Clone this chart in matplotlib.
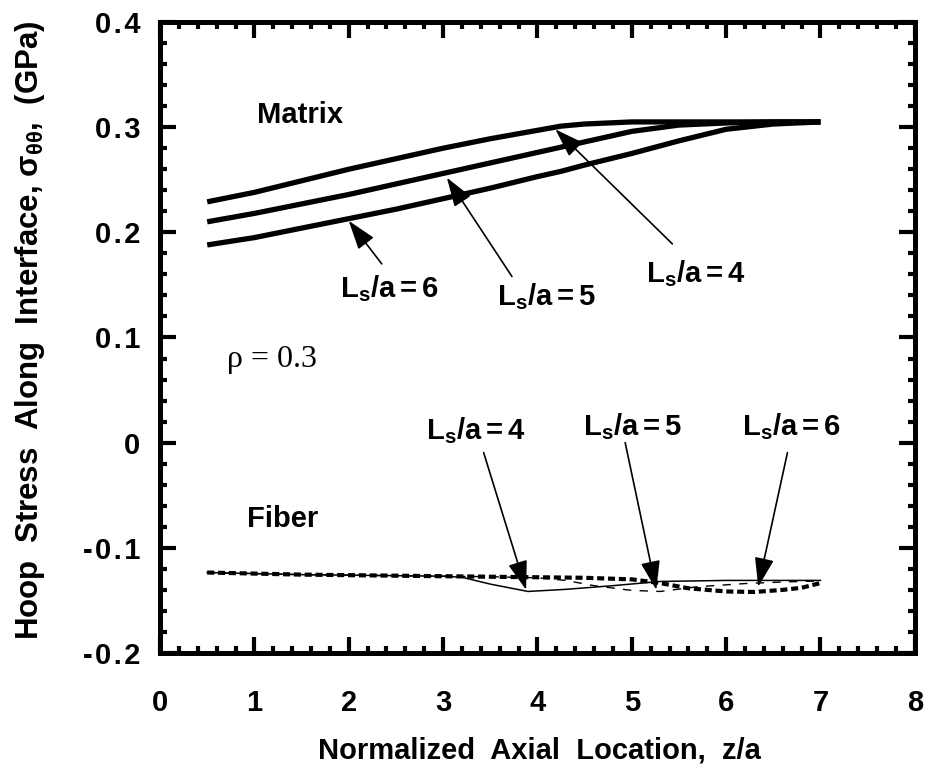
# Hoop stress along the fibre/matrix interface, matrix and fibre sides,
# for three sleeve lengths Ls/a = 4, 5, 6 (rho = 0.3).

import matplotlib
matplotlib.use("Agg")
import matplotlib.pyplot as plt
from matplotlib.ticker import MultipleLocator, FuncFormatter

plt.rcParams["font.family"] = ["Liberation Sans", "DejaVu Sans"]
plt.rcParams["mathtext.fontset"] = "custom"
plt.rcParams["mathtext.rm"] = "Liberation Sans"
plt.rcParams["mathtext.bf"] = "Liberation Sans:bold"
plt.rcParams["mathtext.it"] = "Liberation Sans:italic"

# matrix side (thick solid lines)
x_matrix = [0.5, 1.0, 1.5, 2.0, 2.5, 3.0, 3.5, 4.0, 4.25, 4.5, 5.0, 5.5, 6.0, 6.5, 7.0]
matrix_ls4 = [0.229, 0.238, 0.249, 0.260, 0.270, 0.280, 0.289, 0.297, 0.301, 0.303, 0.305, 0.305, 0.305, 0.305, 0.305]
matrix_ls5 = [0.210, 0.218, 0.227, 0.236, 0.246, 0.256, 0.266, 0.276, 0.281, 0.286, 0.296, 0.302, 0.304, 0.305, 0.305]
matrix_ls6 = [0.188, 0.195, 0.204, 0.213, 0.222, 0.232, 0.242, 0.253, 0.258, 0.264, 0.275, 0.287, 0.298, 0.303, 0.305]

# fibre side
fiber_x_ls4 = [0.5, 1.0, 1.5, 2.0, 2.5, 3.0, 3.2, 3.5, 3.9, 4.3, 4.8, 5.3, 6.0, 7.0]
fiber_ls4 = [-0.1235, -0.1245, -0.1255, -0.126, -0.1265, -0.127, -0.128, -0.1345,
             -0.1415, -0.1395, -0.136, -0.132, -0.131, -0.131]
fiber_x_ls5 = [0.5, 1.0, 1.5, 2.0, 2.5, 3.0, 3.5, 4.0, 4.3, 4.6, 5.0, 5.3, 5.7, 6.2, 6.6, 7.0]
fiber_ls5 = [-0.1235, -0.1245, -0.1255, -0.126, -0.1265, -0.127, -0.1275, -0.1285, -0.131,
             -0.136, -0.1405, -0.1415, -0.137, -0.134, -0.1325, -0.1315]
fiber_x_ls6 = [0.5, 1.0, 1.5, 2.0, 2.5, 3.0, 3.5, 4.0, 4.5, 5.0, 5.3, 5.6, 6.0, 6.3, 6.6, 6.8, 7.0]
fiber_ls6 = [-0.1235, -0.1245, -0.1255, -0.126, -0.1265, -0.127, -0.1275, -0.128, -0.1285,
             -0.130, -0.1335, -0.1385, -0.1415, -0.142, -0.140, -0.138, -0.1335]

# annotation labels: (text, text x, text baseline y, arrow tail, arrow tip)
matrix_notes = [
    (r"$\mathbf{L_s/a=6}$", 2.43, 0.138, (2.35, 0.170), (2.00, 0.211)),
    (r"$\mathbf{L_s/a=5}$", 4.09, 0.131, (3.73, 0.158), (3.04, 0.252)),
    (r"$\mathbf{L_s/a=4}$", 5.68, 0.153, (5.43, 0.189), (4.19, 0.298)),
]
fiber_notes = [
    (r"$\mathbf{L_s/a=4}$", 3.35, 0.003, (3.43, -0.0095), (3.88, -0.140)),
    (r"$\mathbf{L_s/a=5}$", 5.01, 0.0067, (4.93, 0.0), (5.26, -0.140)),
    (r"$\mathbf{L_s/a=6}$", 6.69, 0.0067, (6.65, -0.0095), (6.34, -0.137)),
]

fig = plt.figure(figsize=(9.25, 7.78), dpi=100)
ax = fig.add_axes([0.173, 0.1607, 0.816, 0.811])

for y in (matrix_ls4, matrix_ls5, matrix_ls6):
    ax.plot(x_matrix, y, color="black", lw=3.8, solid_capstyle="butt")

ax.plot(fiber_x_ls4, fiber_ls4, color="black", lw=1.1)
ax.plot(fiber_x_ls5, fiber_ls5, color="black", lw=1.0, linestyle=(0, (6, 6)))
ax.plot(fiber_x_ls6, fiber_ls6, color="black", lw=3.0, linestyle=(0, (1.7, 0.9)),
        dash_capstyle="butt")

arrow = dict(arrowstyle="-|>,head_length=0.9,head_width=0.3", color="black",
             lw=1.2, mutation_scale=20, shrinkA=0, shrinkB=0)
for text, tx, ty, tail, tip in matrix_notes + fiber_notes:
    ax.text(tx, ty, text, ha="center", va="baseline", fontsize=21)
    ax.annotate("", xy=tip, xytext=tail, arrowprops=arrow)

ax.text(1.03, 0.312, "Matrix", ha="left", va="center", fontsize=21, fontweight="bold")
ax.text(0.92, -0.073, "Fiber", ha="left", va="center", fontsize=21, fontweight="bold")
ax.text(0.71, 0.079, "ρ = 0.3", ha="left", va="center", fontsize=23,
        family=["Liberation Serif", "DejaVu Serif"])

ax.set_xlim(0, 8)
ax.set_ylim(-0.2, 0.4)
ax.xaxis.set_major_locator(MultipleLocator(1))
ax.xaxis.set_minor_locator(MultipleLocator(0.2))
ax.yaxis.set_major_locator(MultipleLocator(0.1))
ax.yaxis.set_minor_locator(MultipleLocator(0.02))


def spaced(v, pos):
    s = "0" if abs(v) < 1e-9 else f"{v:.1f}"
    return "\u200a".join(s)


ax.yaxis.set_major_formatter(FuncFormatter(spaced))
ax.xaxis.set_major_formatter(FuncFormatter(lambda v, pos: f"{v:.0f}"))

ax.tick_params(which="both", direction="in", top=True, right=True, width=3)
ax.tick_params(which="major", length=11.5)
ax.tick_params(which="minor", length=5)
ax.tick_params(axis="x", which="major", pad=26, labelsize=21)
ax.tick_params(axis="y", which="major", pad=14, labelsize=21)
for lab in ax.get_xticklabels() + ax.get_yticklabels():
    lab.set_fontweight("bold")
for sp in ax.spines.values():
    sp.set_linewidth(3.6)

ax.set_xlabel("Normalized  Axial  Location,  z/a", fontsize=21, fontweight="bold")
ax.set_ylabel(r"Hoop  Stress  Along  Interface, $\mathbf{\sigma_{\theta\theta}}$,  (GPa)",
              fontsize=22.5, fontweight="bold")
ax.xaxis.set_label_coords(0.503, -0.132)
ax.yaxis.set_label_coords(-0.150, 0.512)

fig.savefig("out.png", dpi=100)
plt.close(fig)
print("Saved: out.png")
